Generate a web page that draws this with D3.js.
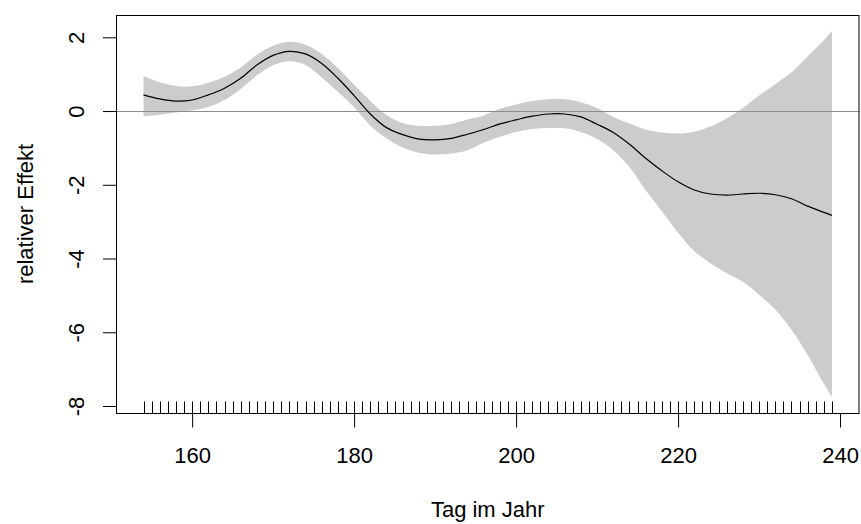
<!DOCTYPE html>
<html>
<head>
<meta charset="utf-8">
<script src="https://cdn.jsdelivr.net/npm/d3@7"></script>
<style>
  html, body { margin: 0; padding: 0; background: #ffffff; }
  svg { display: block; }
  text { font-family: "Liberation Sans", Arial, sans-serif; fill: #000; }
</style>
</head>
<body>
<svg id="chart" width="861" height="524"></svg>
<script>
// ---- data ----
const days  = [154,156,158,160,162,164,166,168,170,172,174,176,178,180,182,184,186,188,190,192,194,196,198,200,202,204,206,208,210,212,214,216,218,220,222,224,226,228,230,232,234,236,238,239];
const fit   = [0.44,0.33,0.27,0.30,0.44,0.62,0.89,1.25,1.51,1.62,1.55,1.29,0.89,0.42,-0.08,-0.45,-0.64,-0.76,-0.78,-0.74,-0.63,-0.50,-0.35,-0.24,-0.14,-0.08,-0.08,-0.16,-0.36,-0.58,-0.90,-1.28,-1.62,-1.92,-2.14,-2.25,-2.28,-2.25,-2.23,-2.27,-2.38,-2.58,-2.75,-2.83];
const upper = [0.95,0.78,0.68,0.67,0.77,0.93,1.18,1.53,1.77,1.88,1.80,1.55,1.17,0.72,0.27,-0.11,-0.33,-0.40,-0.40,-0.35,-0.23,-0.12,0.06,0.18,0.27,0.32,0.32,0.24,0.08,-0.16,-0.34,-0.50,-0.58,-0.61,-0.56,-0.42,-0.20,0.08,0.42,0.73,1.05,1.48,1.92,2.17];
const lower = [-0.14,-0.10,-0.04,0.02,0.11,0.30,0.60,0.97,1.24,1.35,1.25,0.91,0.52,0.10,-0.40,-0.74,-0.99,-1.13,-1.18,-1.15,-1.06,-0.86,-0.70,-0.57,-0.49,-0.46,-0.47,-0.57,-0.76,-1.06,-1.52,-2.15,-2.72,-3.30,-3.80,-4.13,-4.40,-4.63,-4.98,-5.38,-5.93,-6.62,-7.40,-7.75];
const rugDays = [154,155,156,157,158,159,160,161,162,163,164,165,166,167,168,169,170,171,172,173,174,175,176,177,178,179,180,181,182,183,184,185,186,187,188,189,190,191,192,193,194,195,196,197,198,199,200,201,202,203,204,205,206,207,208,209,210,211,212,213,214,215,216,217,218,219,220,221,222,223,224,225,226,227,228,229,230,231,232,233,234,235,236,237,238,239];
const xTicks = [160, 180, 200, 220, 240];
const yTicks = [2, 0, -2, -4, -6, -8];
const xLabel = "Tag im Jahr";
const yLabel = "relativer Effekt";

// ---- layout ----
const L = 116, R = 859.5, T = 15, B = 413;
const svg = d3.select("#chart");

const xr = d3.extent(days), xpad = (xr[1] - xr[0]) * 0.04;
const x = d3.scaleLinear().domain([xr[0] - xpad, xr[1] + xpad]).range([L, R]);
const y = d3.scaleLinear().domain([-8.19, 2.605]).range([B, T]);

const rows = days.map((d, i) => ({ d, f: fit[i], u: upper[i], l: lower[i] }));
const curve = d3.curveCatmullRom.alpha(0.5);

// confidence band
svg.append("path")
  .datum(rows)
  .attr("fill", "#cccccc")
  .attr("d", d3.area().x(r => x(r.d)).y0(r => y(r.l)).y1(r => y(r.u)).curve(curve));

// zero line
svg.append("line")
  .attr("x1", L).attr("x2", R)
  .attr("y1", Math.round(y(0)) + 0.5).attr("y2", Math.round(y(0)) + 0.5)
  .attr("stroke", "#8c8c8c").attr("stroke-width", 1);

// fitted curve
svg.append("path")
  .datum(rows)
  .attr("fill", "none")
  .attr("stroke", "#000")
  .attr("stroke-width", 1.2)
  .attr("d", d3.line().x(r => x(r.d)).y(r => y(r.f)).curve(curve));

// rug
svg.append("g").selectAll("line").data(rugDays).join("line")
  .attr("x1", d => Math.round(x(d)) + 0.5).attr("x2", d => Math.round(x(d)) + 0.5)
  .attr("y1", B).attr("y2", B - 11.5)
  .attr("stroke", "#000").attr("stroke-width", 1);

// box
svg.append("rect")
  .attr("x", L + 0.5).attr("y", T + 0.5)
  .attr("width", R - L - 1).attr("height", B - T)
  .attr("fill", "none").attr("stroke", "#000").attr("stroke-width", 1);

const fmt = d => String(d);

// x axis
const gx = svg.append("g").attr("transform", `translate(0,${B + 0.5})`)
  .call(d3.axisBottom(x).tickValues(xTicks).tickSize(14).tickFormat(fmt));
gx.select(".domain").remove();
gx.selectAll("line").attr("stroke", "#000");
gx.selectAll("text").attr("y", 49).attr("dy", 0)
  .style("font-size", "22px").style("font-family", "'Liberation Sans', Arial, sans-serif").attr("fill", "#000");

// y axis
const gy = svg.append("g").attr("transform", `translate(${L + 0.5},0)`)
  .call(d3.axisLeft(y).tickValues(yTicks).tickSize(13.5).tickFormat(fmt));
gy.select(".domain").remove();
gy.selectAll("line").attr("stroke", "#000");
gy.selectAll("text")
  .attr("x", 0).attr("dy", 0)
  .attr("transform", "translate(-33,0) rotate(-90)")
  .attr("text-anchor", "middle")
  .style("font-size", "22px").style("font-family", "'Liberation Sans', Arial, sans-serif").attr("fill", "#000");

// axis titles
svg.append("text")
  .attr("x", (L + R) / 2).attr("y", 517)
  .attr("text-anchor", "middle")
  .style("font-size", "22px")
  .text(xLabel);

svg.append("text")
  .attr("transform", `translate(33,${(T + B) / 2}) rotate(-90)`)
  .attr("text-anchor", "middle")
  .style("font-size", "22px")
  .text(yLabel);
</script>
</body>
</html>
